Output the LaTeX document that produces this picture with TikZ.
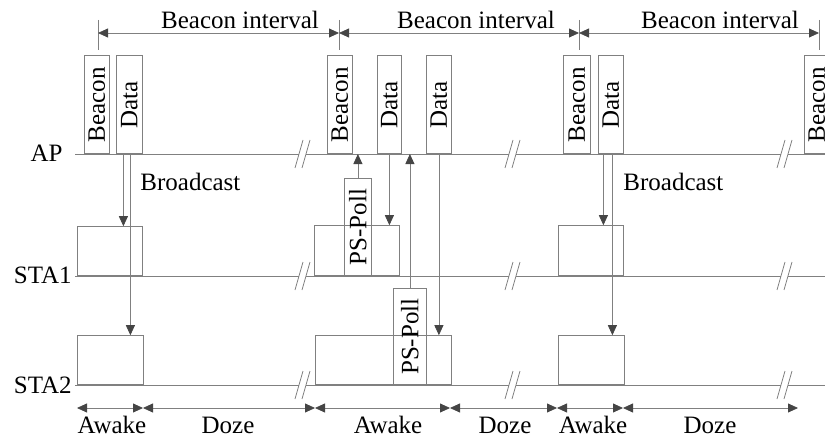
\documentclass[tikz,border=0pt]{standalone}
\usepackage{fontspec}
\setmainfont{Liberation Serif}
\usepackage{graphicx}
\usetikzlibrary{%
  arrows.meta%
}
\definecolor{linegray}{gray}{0.5}
\definecolor{tipgray}{gray}{0.27}

\begin{document}
\begin{tikzpicture}[x=1pt,y=-1pt,line width=0.8pt,
  every node/.style={font=\fontsize{25pt}{30pt}\selectfont,inner sep=0pt},
  frame/.style={draw=linegray,anchor=south west},
  pkt/.style={frame,minimum height=98pt},
  tip/.style={Triangle[length=10pt,width=9pt,color=tipgray]},
  arr/.style={draw=linegray,-{Triangle[length=10pt,width=9pt,color=tipgray]}},
  span/.style={draw=linegray,{Triangle[length=10pt,width=9pt,color=tipgray]}-{Triangle[length=10pt,width=9pt,color=tipgray]}}]
\path[use as bounding box,clip] (0,0) rectangle (825,436);

% time lines with break marks
\foreach \r in {154,276,385} {
  \draw[linegray] (75,\r) -- (299,\r) (306,\r) -- (509,\r)
                  (516,\r) -- (781,\r) (788,\r) -- (825,\r);
  \foreach \c in {300,510,782}
    \draw[linegray] (\c-5,\r+14) -- (\c+3,\r-14) (\c+2,\r+14) -- (\c+10,\r-14);
}
\node[anchor=base east] (ap) at (63,161) {AP};
\node[anchor=base east] (sta1) at (72,283) {STA1};
\node[anchor=base east] (sta2) at (72,393) {STA2};

% frames sent by the AP
\node[pkt,minimum width=25pt] (bcn1) at (84,154) {\rotatebox{90}{Beacon}};
\node[pkt,minimum width=26pt] (dat1) at (116,154) {\rotatebox{90}{Data}};
\node[pkt,minimum width=25pt] (bcn2) at (327,154) {\rotatebox{90}{Beacon}};
\node[pkt,minimum width=24pt] (dat2) at (377,154) {\rotatebox{90}{Data}};
\node[pkt,minimum width=25pt] (dat3) at (426,154) {\rotatebox{90}{Data}};
\node[pkt,minimum width=27pt] (bcn3) at (563,154) {\rotatebox{90}{Beacon}};
\node[pkt,minimum width=25pt] (dat4) at (598,154) {\rotatebox{90}{Data}};
\node[pkt,minimum width=25pt] (bcn4) at (804,154) {\rotatebox{90}{Beacon}};

% awake periods of the stations
\node[frame,minimum width=65pt,minimum height=49pt] (aw11) at (77,276) {};
\node[frame,minimum width=85pt,minimum height=50pt] (aw12) at (314,276) {};
\node[frame,minimum width=65pt,minimum height=50pt] (aw13) at (558,276) {};
\node[frame,minimum width=66pt,minimum height=49pt] (aw21) at (77,385) {};
\node[frame,minimum width=136pt,minimum height=49pt] (aw22) at (315,385) {};
\node[frame,minimum width=66pt,minimum height=49pt] (aw23) at (558,385) {};

\node[frame,minimum width=27pt,minimum height=97pt] (poll1) at (344,276) {\rotatebox{90}{PS-Poll}};
\node[frame,minimum width=33pt,minimum height=96pt] (poll2) at (393,385) {\rotatebox{90}{PS-Poll}};

\draw[arr] ([xshift=-6pt]dat1.south) -- ([xshift=-6pt]dat1.south |- aw11.north);
\draw[arr] ([xshift=1pt]dat1.south) -- ([xshift=1pt]dat1.south |- aw21.north);
\draw[arr] (poll1.north) -- (poll1.north |- bcn2.south);
\draw[arr] (dat2.south) -- (dat2.south |- aw12.north);
\draw[arr] (poll2.north) -- (poll2.north |- bcn2.south);
\draw[arr] (dat3.south) -- (dat3.south |- aw22.north);
\draw[arr] ([xshift=-7.5pt]dat4.south) -- ([xshift=-7.5pt]dat4.south |- aw13.north);
\draw[arr] ([xshift=1.5pt]dat4.south) -- ([xshift=1.5pt]dat4.south |- aw23.north);

\node[anchor=base west] (bc1) at (140,190) {Broadcast};
\node[anchor=base west] (bc2) at (623,190) {Broadcast};

% beacon intervals
\foreach \x [count=\i] in {98,339,579,819} {
  \draw[linegray] (\x,20) -- (\x,50);
  \coordinate (t\i) at (\x,33);
}
\draw[span] (t1) -- (t2);
\draw[span] (t2) -- (t3);
\draw[span] (t3) -- (t4);
\node[anchor=base] (iv1) at (240,29) {Beacon interval};
\node[anchor=base] (iv2) at (476,29) {Beacon interval};
\node[anchor=base] (iv3) at (720,29) {Beacon interval};

% awake / doze periods
\foreach \x [count=\i from 0] in {77,143,315,450,557,623,798}
  \coordinate (p\i) at (\x,408);
\draw[span] (p0) -- (p1);
\draw[span] (p1) -- (p2);
\draw[span] (p2) -- (p3);
\draw[span] (p3) -- (p4);
\draw[span] (p4) -- (p5);
\draw[span] (p5) -- (p6);
\node[anchor=base] (wk1) at (112,433) {Awake};
\node[anchor=base] (dz1) at (228,433) {Doze};
\node[anchor=base] (wk2) at (388,433) {Awake};
\node[anchor=base] (dz2) at (505,433) {Doze};
\node[anchor=base] (wk3) at (593,433) {Awake};
\node[anchor=base] (dz3) at (710,433) {Doze};
\end{tikzpicture}
\end{document}
